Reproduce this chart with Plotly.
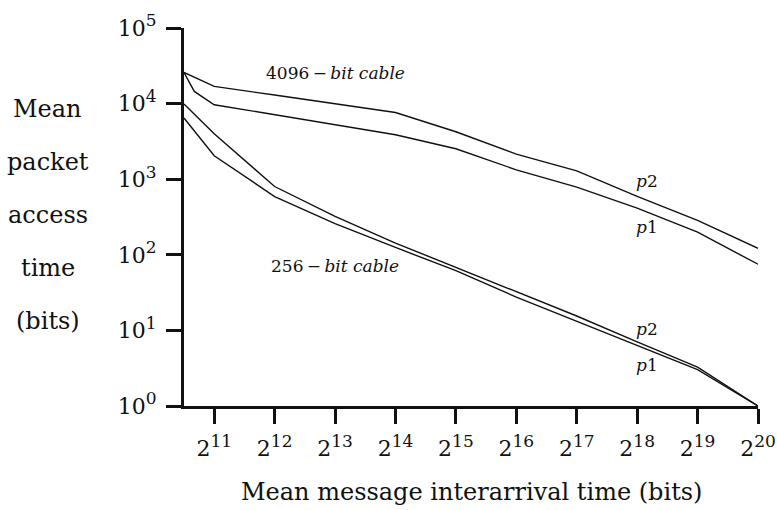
import math
import plotly.graph_objects as go

# Mean message interarrival time (bits)
x_bits = [1448, 2048, 4096, 8192, 16384, 32768, 65536, 131072, 262144, 524288, 1048576]
x_bits_4096_p1 = [1448, 1630, 2048, 4096, 8192, 16384, 32768, 65536, 131072, 262144, 524288, 1048576]

# Mean packet access time (bits)
cable4096_p2 = [25800, 16900, 12970, 9950, 7630, 4240, 2150, 1290, 593, 285, 122]
cable4096_p1 = [25800, 14500, 9660, 7120, 5230, 3870, 2530, 1330, 785, 414, 199, 75]
cable256_p2 = [9860, 3990, 800, 323, 143, 68.1, 32.1, 15.5, 7.03, 3.26, 1.0]
cable256_p1 = [6440, 2040, 590, 259, 125, 61.6, 27.6, 13.1, 6.22, 3.02, 1.0]

x_tick_exps = [11, 12, 13, 14, 15, 16, 17, 18, 19, 20]
y_tick_exps = [0, 1, 2, 3, 4, 5]

FONT = "DejaVu Serif"
INK = "#111111"


def power_label(base, exp):
    return f'{base}<sup><span style="font-size:17px">{exp}</span></sup>'


fig = go.Figure()
for xs, ys in [
    (x_bits, cable4096_p2),
    (x_bits_4096_p1, cable4096_p1),
    (x_bits, cable256_p2),
    (x_bits, cable256_p1),
]:
    fig.add_trace(go.Scatter(x=xs, y=ys, mode="lines",
                             line=dict(color=INK, width=1.4),
                             showlegend=False, hoverinfo="skip"))

log2 = math.log10(2)
fig.update_xaxes(
    type="log",
    range=[10.5 * log2, 20 * log2],
    tickvals=[2 ** e for e in x_tick_exps],
    ticktext=[power_label(2, e) for e in x_tick_exps],
    showline=True, linecolor=INK, linewidth=3,
    ticks="outside", ticklen=15, tickwidth=2.5, tickcolor=INK,
    showgrid=False, zeroline=False, automargin=False,
    tickfont=dict(family=FONT, size=22, color=INK),
    ticklabelstandoff=6,
)
fig.update_yaxes(
    type="log",
    range=[0, 5],
    tickvals=[10 ** e for e in y_tick_exps],
    ticktext=[power_label(10, e) for e in y_tick_exps],
    showline=True, linecolor=INK, linewidth=3,
    ticks="outside", ticklen=15, tickwidth=2.5, tickcolor=INK,
    showgrid=False, zeroline=False, automargin=False,
    tickfont=dict(family=FONT, size=22, color=INK),
    ticklabelstandoff=5,
)

annotations = []
# vertical axis title, one word per line
for word, yp in [("Mean", 0.787), ("packet", 0.6455), ("access", 0.505),
                 ("time", 0.365), ("(bits)", 0.225)]:
    annotations.append(dict(text=word, xref="paper", yref="paper", x=-0.237, y=yp,
                            xanchor="center", yanchor="middle", showarrow=False,
                            font=dict(family=FONT, size=24, color=INK)))
# horizontal axis title
annotations.append(dict(text="Mean message interarrival time (bits)", xref="paper",
                        yref="paper", x=0.5, y=-0.2275, xanchor="center",
                        yanchor="middle", showarrow=False,
                        font=dict(family=FONT, size=24, color=INK)))
# curve labels
label_font = dict(family=FONT, size=17, color=INK)
for text, xl, yl in [
    ("4096\u2009\u2212\u2009<i>bit cable</i>", 13 * log2, 4.405),
    ("256\u2009\u2212\u2009<i>bit cable</i>", 13 * log2, 1.852),
    ("<i>p</i>2", 18.167 * log2, 2.976),
    ("<i>p</i>1", 18.167 * log2, 2.368),
    ("<i>p</i>2", 18.167 * log2, 1.019),
    ("<i>p</i>1", 18.167 * log2, 0.546),
]:
    annotations.append(dict(text=text, x=xl, y=yl, xref="x", yref="y",
                            xanchor="center", yanchor="middle", showarrow=False,
                            font=label_font))

fig.update_layout(
    width=777, height=510,
    margin=dict(l=184, r=19, t=28, b=104, autoexpand=False),
    paper_bgcolor="white", plot_bgcolor="white",
    annotations=annotations,
    font=dict(family=FONT, color=INK),
)

fig.write_html("out.html")
